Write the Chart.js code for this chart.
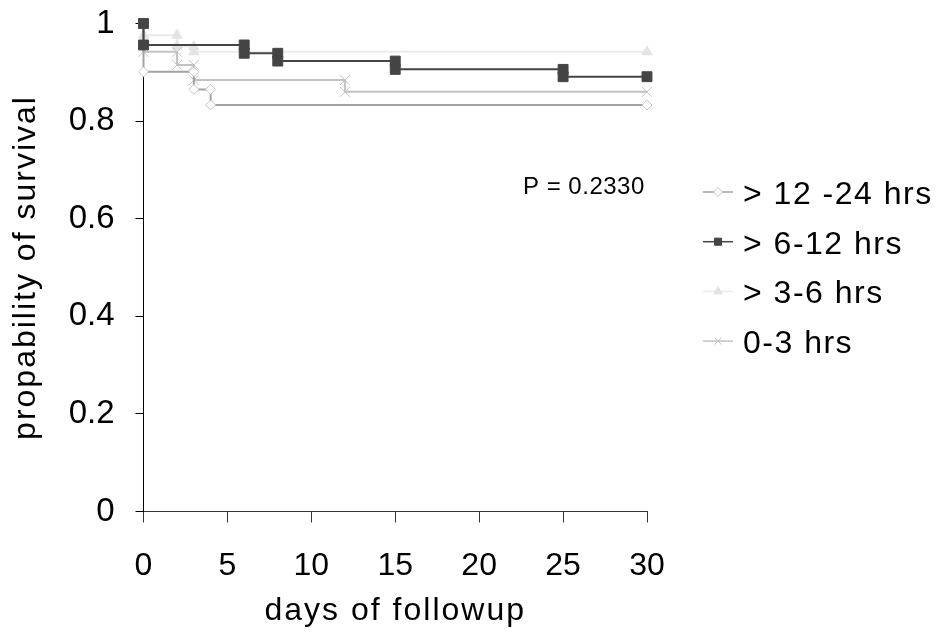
<!DOCTYPE html>
<html><head><meta charset="utf-8">
<script src="https://cdn.jsdelivr.net/npm/chart.js@4/dist/chart.umd.min.js"></script>
<style>html,body{margin:0;padding:0;background:#fff;} canvas{display:block;}</style>
</head><body>
<canvas id="c" width="939" height="634"></canvas>
<script>
// ---- data (Kaplan-Meier steps) ----
const seriesNames = ['> 12 -24 hrs', '> 6-12 hrs', '> 3-6 hrs', '0-3 hrs'];
const days12to24 = [0, 0, 3, 3, 4, 4, 30];
const surv12to24 = [1, 0.901, 0.901, 0.865, 0.865, 0.833, 0.833];
const days6to12 = [0, 0, 6, 6, 8, 8, 15, 15, 25, 25, 30];
const surv6to12 = [1, 0.956, 0.956, 0.939, 0.939, 0.923, 0.923, 0.906, 0.906, 0.891, 0.891];
const days3to6 = [0, 0, 2, 2, 3, 3, 30];
const surv3to6 = [1, 0.976, 0.976, 0.953, 0.953, 0.942, 0.942];
const days0to3 = [0, 0, 2, 2, 3, 3, 12, 12, 30];
const surv0to3 = [1, 0.942, 0.942, 0.915, 0.915, 0.884, 0.884, 0.860, 0.860];
const xTickLabels = ['0', '5', '10', '15', '20', '25', '30'];
const yTickLabels = ['0', '0.2', '0.4', '0.6', '0.8', '1'];
const xTitle = 'days of followup';
const yTitle = 'propability of survival';
const pValueText = 'P = 0.2330';

const FONT = '"Liberation Sans", Arial, Helvetica, sans-serif';
Chart.defaults.font.family = FONT;
Chart.defaults.color = '#000';

const pts = (xs, ys) => xs.map((x, i) => ({x: x, y: ys[i]}));

const spacingPlugin = {
  id: 'spacing',
  beforeDraw(chart) { chart.ctx.letterSpacing = '2px'; },
  beforeDatasetsDraw(chart) { chart.ctx.letterSpacing = '0px'; }
};

const legendPlugin = {
  id: 'customLegend',
  afterDraw(chart) {
    const ctx = chart.ctx;
    const sizes = [4.5, 5, 5, 5];
    chart.data.datasets.forEach((ds, i) => {
      const y = 192 + i * 49.7;
      ctx.save();
      ctx.strokeStyle = ds.borderColor;
      ctx.lineWidth = 1.5;
      ctx.beginPath(); ctx.moveTo(703, y); ctx.lineTo(733, y); ctx.stroke();
      ctx.fillStyle = ds.pointBackgroundColor;
      ctx.strokeStyle = ds.pointBorderColor;
      ctx.lineWidth = 1;
      Chart.helpers.drawPoint(ctx, {pointStyle: ds.pointStyle, radius: sizes[i], rotation: 0, borderWidth: 1}, 718, y);
      ctx.letterSpacing = '1.5px';
      ctx.font = '32px ' + FONT;
      ctx.fillStyle = '#000';
      ctx.textAlign = 'left';
      ctx.textBaseline = 'alphabetic';
      ctx.fillText(ds.label, 743, y + 12);
      ctx.restore();
    });
    ctx.save();
    ctx.letterSpacing = '0.5px';
    ctx.font = '24px ' + FONT;
    ctx.fillStyle = '#000';
    ctx.textAlign = 'left';
    ctx.textBaseline = 'alphabetic';
    ctx.fillText(pValueText, 523, 194);
    ctx.restore();
  }
};

new Chart(document.getElementById('c'), {
  type: 'line',
  data: {
    datasets: [
      {label: seriesNames[0], data: pts(days12to24, surv12to24), borderColor: '#a2a2a2', borderWidth: 2,
       pointStyle: 'rectRot', pointRadius: 5, pointBorderColor: '#c4c4c4', pointBackgroundColor: '#ffffff',
       pointBorderWidth: 1, clip: false, order: 1},
      {label: seriesNames[1], data: pts(days6to12, surv6to12), borderColor: '#444444', borderWidth: 2,
       pointStyle: 'rect', pointRadius: 7, pointBorderColor: '#444444', pointBackgroundColor: '#444444',
       pointBorderWidth: 1, clip: false, order: 0},
      {label: seriesNames[2], data: pts(days3to6, surv3to6), borderColor: '#ebebeb', borderWidth: 2,
       pointStyle: 'triangle', pointRadius: 6, pointBorderColor: '#e3e3e3', pointBackgroundColor: '#e3e3e3',
       pointBorderWidth: 1, clip: false, order: 3},
      {label: seriesNames[3], data: pts(days0to3, surv0to3), borderColor: '#c2c2c2', borderWidth: 2,
       pointStyle: 'crossRot', pointRadius: 7, pointBorderColor: '#c4c4c4', pointBackgroundColor: '#c4c4c4',
       pointBorderWidth: 1, clip: false, order: 2}
    ]
  },
  options: {
    responsive: false,
    animation: false,
    events: [],
    layout: {padding: {top: 23.5, left: 0, right: 292, bottom: 0}},
    plugins: {legend: {display: false}, tooltip: {enabled: false}},
    scales: {
      x: {
        type: 'linear', min: 0, max: 30,
        ticks: {stepSize: 5, autoSkip: false, maxRotation: 0, z: 1, padding: 24,
                font: {size: 32}, color: '#000',
                callback: v => xTickLabels[Math.round(v / 5)]},
        grid: {display: true, drawOnChartArea: false, drawTicks: true, tickLength: 11, color: '#333', tickColor: '#333'},
        border: {display: true, color: '#333', width: 1},
        title: {display: true, text: xTitle, font: {size: 32}, color: '#000', padding: {top: 0, bottom: 4}},
        afterFit: s => { s.height = 122.5; s.paddingLeft = 0; s.paddingRight = 0; }
      },
      y: {
        min: 0, max: 1,
        ticks: {stepSize: 0.2, z: 1, padding: 21, font: {size: 33}, color: '#000',
                callback: v => yTickLabels[Math.round(v * 5)]},
        grid: {display: true, drawOnChartArea: false, drawTicks: true, tickLength: 8, color: '#000', tickColor: '#000'},
        border: {display: true, color: '#000', width: 1},
        title: {display: true, text: yTitle, font: {size: 32}, color: '#000', padding: {top: 7, bottom: 0}},
        afterFit: s => { s.width = 143.5; s.paddingTop = 0; s.paddingBottom = 0; }
      }
    }
  },
  plugins: [spacingPlugin, legendPlugin]
});
</script>
</body></html>
